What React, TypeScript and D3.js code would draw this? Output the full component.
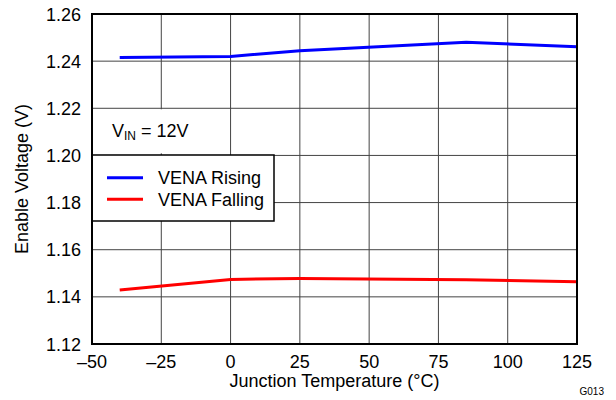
import React from "react";
import * as d3 from "d3";

const temps = [-40, 0, 25, 85, 125];
const risingV = [1.2415, 1.242, 1.2444, 1.248, 1.2461];
const fallingV = [1.1429, 1.1474, 1.1478, 1.1473, 1.1464];
const xTicks = [-50, -25, 0, 25, 50, 75, 100, 125];
const yTicks = [1.12, 1.14, 1.16, 1.18, 1.2, 1.22, 1.24, 1.26];
const seriesNames = ["VENA Rising", "VENA Falling"];
const seriesColors = ["#0000ff", "#ff0000"];

const W = 616;
const H = 400;
const m = { left: 92, right: 577, top: 14, bottom: 344 };
const font = "Arial, 'Liberation Sans', Helvetica, sans-serif";
const fs = 18;

export default function App() {
  const x = d3.scaleLinear().domain([-50, 125]).range([m.left, m.right]);
  const y = d3.scaleLinear().domain([1.12, 1.26]).range([m.bottom, m.top]);
  const line = d3
    .line<[number, number]>()
    .x((d) => x(d[0]))
    .y((d) => y(d[1]));
  const series = [risingV, fallingV].map((vals) =>
    temps.map((t, i) => [t, vals[i]] as [number, number])
  );
  const fmtX = (v: number) => (v < 0 ? "\u2013" + Math.abs(v) : String(v));

  return (
    <svg
      width={W}
      height={H}
      style={{ position: "absolute", left: 0, top: 0, background: "#fff" }}
      fontFamily={font}
    >
      {/* grid */}
      {xTicks.slice(1, -1).map((t) => (
        <line key={"gx" + t} x1={x(t)} x2={x(t)} y1={m.top} y2={m.bottom} stroke="#444" strokeWidth={1} />
      ))}
      {yTicks.slice(1, -1).map((t) => (
        <line key={"gy" + t} x1={m.left} x2={m.right} y1={y(t)} y2={y(t)} stroke="#444" strokeWidth={1} />
      ))}
      {/* data lines */}
      {series.map((d, i) => (
        <path key={seriesNames[i]} d={line(d) || ""} fill="none" stroke={seriesColors[i]} strokeWidth={3} />
      ))}
      {/* condition label on a white patch */}
      <rect x={m.left + 1} y={y(1.22) + 1} width={107} height={44} fill="#fff" />
      <text x={112} y={137} fontSize={fs} fill="#000">
        V<tspan fontSize={12} dy={3}>IN</tspan>
        <tspan dy={-3}> = 12V</tspan>
      </text>
      {/* legend */}
      <rect x={m.left} y={155} width={182} height={66} fill="#fff" stroke="#000" strokeWidth={1.5} />
      {seriesNames.map((n, i) => (
        <g key={"lg" + n} transform={`translate(0, ${177.7 + i * 21.6})`}>
          <line x1={107} x2={143} y1={0} y2={0} stroke={seriesColors[i]} strokeWidth={3} />
          <text x={158} y={6.3} fontSize={fs} fill="#000">{n}</text>
        </g>
      ))}
      {/* frame */}
      <rect x={m.left} y={m.top} width={m.right - m.left} height={m.bottom - m.top} fill="none" stroke="#000" strokeWidth={2} />
      {/* ticks */}
      {yTicks.map((t) => (
        <text key={"ty" + t} x={81} y={y(t) + 6.5} fontSize={fs} textAnchor="end" fill="#000">
          {t.toFixed(2)}
        </text>
      ))}
      {xTicks.map((t) => (
        <text key={"tx" + t} x={x(t)} y={367.5} fontSize={fs} textAnchor="middle" fill="#000">
          {fmtX(t)}
        </text>
      ))}
      <text x={(m.left + m.right) / 2} y={387} fontSize={fs} textAnchor="middle" fill="#000">
        Junction Temperature (°C)
      </text>
      <text
        transform={`translate(28, ${(m.top + m.bottom) / 2}) rotate(-90)`}
        fontSize={fs}
        textAnchor="middle"
        fill="#000"
      >
        Enable Voltage (V)
      </text>
      <text x={604} y={395} fontSize={10} textAnchor="end" fill="#000">G013</text>
    </svg>
  );
}
